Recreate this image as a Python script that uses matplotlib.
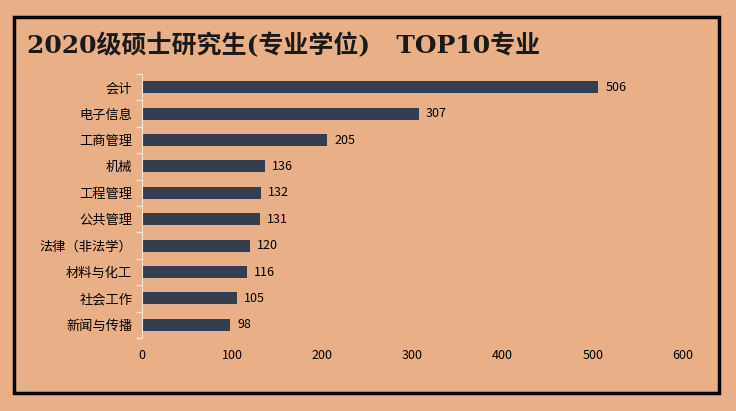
import matplotlib.pyplot as plt
from matplotlib.patches import Rectangle

plt.rcParams['font.family'] = ['Noto Sans CJK SC', 'DejaVu Sans']

majors = ['会计', '电子信息', '工商管理', '机械', '工程管理', '公共管理',
          '法律（非法学）', '材料与化工', '社会工作', '新闻与传播']
counts = [506, 307, 205, 136, 132, 131, 120, 116, 105, 98]
xticks = [0, 100, 200, 300, 400, 500, 600]

BG = '#E9B088'
BAR = '#333F50'

fig = plt.figure(figsize=(7.36, 4.11), dpi=100)
fig.patch.set_facecolor(BG)

# black frame around the chart
fig.patches.append(Rectangle((14 / 736, 1 - 393 / 411), 705 / 736, 376 / 411,
                             transform=fig.transFigure, fill=False,
                             edgecolor='black', linewidth=2.5))

fig.text(27 / 736, 1 - 46 / 411, '2020级硕士研究生(专业学位)   TOP10专业',
         fontsize=18, fontweight='bold', va='center', ha='left',
         family=['DejaVu Serif', 'Noto Sans CJK SC'], color='#1a1a1a')

ax = fig.add_axes([142 / 736, 1 - 338 / 411, 541 / 736, 264 / 411])
ax.set_facecolor(BG)

y = list(range(len(majors)))
ax.barh(y, counts, height=0.45, color=BAR)
ax.set_ylim(len(majors) - 0.5, -0.5)
ax.set_xlim(0, 600)
ax.set_xticks(xticks)
ax.set_yticks(y)
ax.set_yticklabels(majors, fontsize=9.5)
ax.tick_params(axis='x', length=0, labelsize=9, pad=8)
ax.tick_params(axis='y', length=0, pad=7)
# minor ticks on category boundaries
ax.set_yticks([i - 0.5 for i in range(len(majors) + 1)], minor=True)
ax.tick_params(axis='y', which='minor', length=4, color='#F3E4D6', width=1)

for s in ['top', 'right', 'bottom']:
    ax.spines[s].set_visible(False)
ax.spines['left'].set_color('#F3E4D6')

for yi, v in zip(y, counts):
    ax.text(v + 8, yi, str(v), va='center', ha='left', fontsize=9)

fig.savefig('out.png', dpi=100, facecolor=BG)
